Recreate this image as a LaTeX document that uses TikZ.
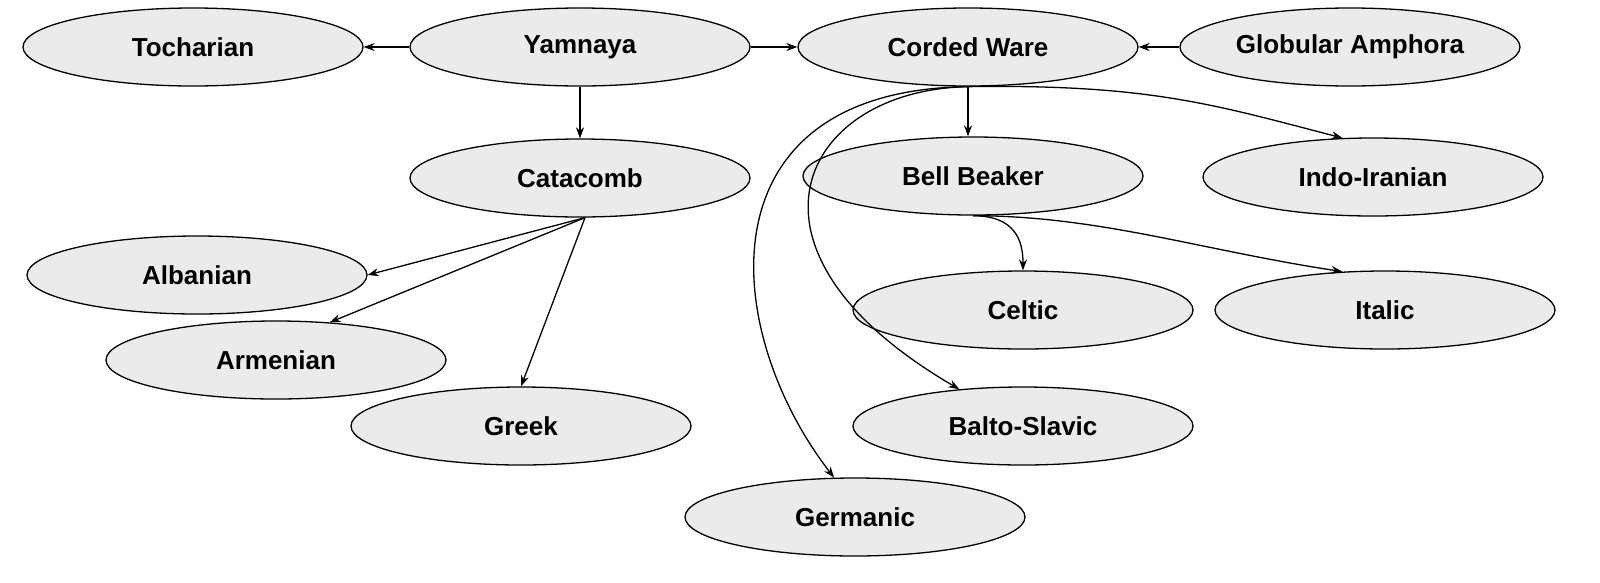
\documentclass[tikz,border=0pt]{standalone}
\usepackage{fontspec}
\setmainfont{Liberation Sans}
\usetikzlibrary{shapes.geometric,arrows.meta}
\begin{document}
\begin{tikzpicture}[x=1pt,y=-1pt,
  n/.style={ellipse,draw,line width=1.3pt,fill=gray!16,minimum width=340pt,minimum height=78pt,inner sep=0pt,font=\fontsize{26}{30}\selectfont\bfseries},
  a/.style={line width=1.3pt,-{Stealth[length=11pt,width=8pt]}}]
\useasboundingbox (0,0) rectangle (1600,582);
\node[n] (toc) at (193,47) {Tocharian};
\node[n] (yam) at (580,47) {Yamnaya};
\node[n] (cw) at (968,47) {Corded Ware};
\node[n] (ga) at (1350,47) {Globular Amphora};
\node[n] (cat) at (580,178) {Catacomb};
\node[n] (bb) at (973,176) {Bell Beaker};
\node[n] (ii) at (1373,177) {Indo-Iranian};
\node[n] (alb) at (197,275) {Albanian};
\node[n] (cel) at (1023,310) {Celtic};
\node[n] (ita) at (1385,310) {Italic};
\node[n] (arm) at (276,360) {Armenian};
\node[n] (gre) at (521,426) {Greek};
\node[n] (bs) at (1023,426) {Balto-Slavic};
\node[n] (ger) at (855,517) {Germanic};
\draw[a] (yam) -- (toc);
\draw[a] (yam) -- (cw);
\draw[a] (ga) -- (cw);
\draw[a] (yam) -- (cat);
\draw[a] (cw.south) -- (cw.south |- bb.north);
\draw[a] (cw.south) .. controls (1150,84) and (1215,105) .. (ii.128);
\draw[a] (cw.south) .. controls (800,90) and (720,250) .. (bs.150);
\draw[a] (cw.south) .. controls (700,90) and (720,330) .. (ger.118);
\draw[a] ([xshift=5pt]cat.south) -- (alb.east);
\draw[a] ([xshift=5pt]cat.south) -- (arm.35);
\draw[a] ([xshift=5pt]cat.south) -- (gre.north);
\draw[a] (bb.south) .. controls (1015,216) and (1023,240) .. (cel.north);
\draw[a] (bb.south) .. controls (1100,216) and (1200,250) .. (ita.138);
\end{tikzpicture}
\end{document}
